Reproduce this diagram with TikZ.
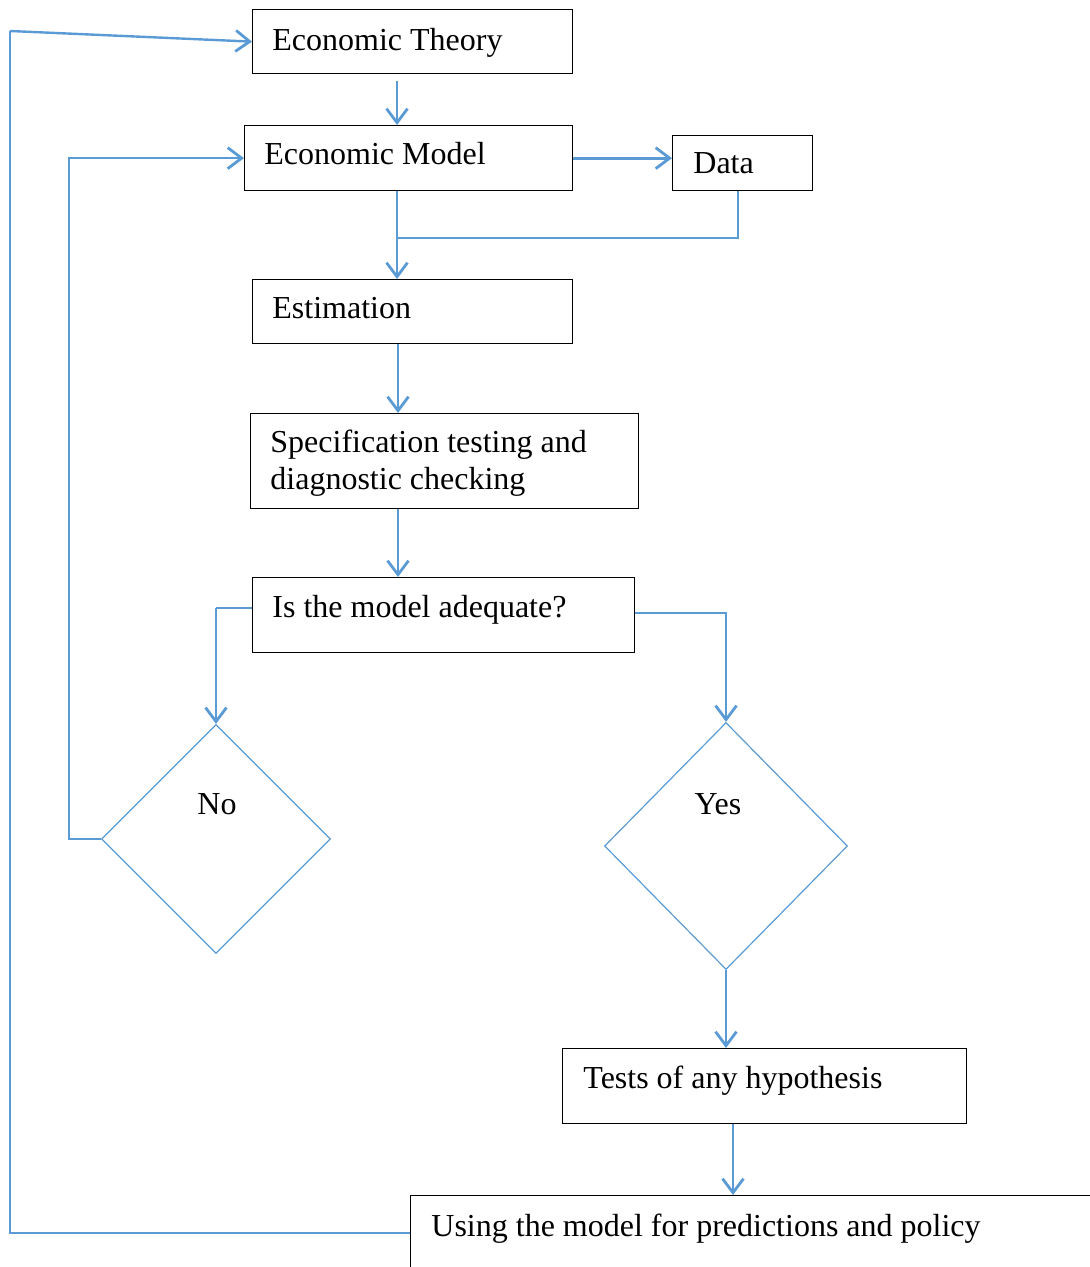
\documentclass[tikz,border=0pt]{standalone}
\usepackage{fontspec}
\setmainfont{Liberation Serif}
\usetikzlibrary{arrows.meta,shapes.geometric}
\definecolor{flowblue}{RGB}{91,155,213}
\begin{document}
\begin{tikzpicture}[x=0.5pt,y=-0.5pt,
  box/.style={draw=black,line width=0.65pt,rectangle,inner sep=0pt,anchor=north west},
  decision/.style={draw=flowblue,line width=0.6pt,diamond,inner sep=0pt},
  lbl/.style={font=\fontsize{16pt}{18.5pt}\selectfont,inner sep=0pt,anchor=base west},
  tip/.style={-{Straight Barb[length=7pt,width=10.5pt,line width=1.4pt]}},
  arr/.style={draw=flowblue,line width=1.4pt,tip},
  feed/.style={draw=flowblue,line width=1pt},
  thinline/.style={draw=flowblue,line width=0.7pt}]
\useasboundingbox (0,0) rectangle (1090,1267);

% boxes
\node[box,minimum width=160pt,minimum height=32pt] (theory) at (252,9) {};
\node[box,minimum width=164pt,minimum height=32.5pt] (model) at (244,125) {};
\node[box,minimum width=70pt,minimum height=27.5pt] (data) at (672,135) {};
\node[box,minimum width=160pt,minimum height=32pt] (est) at (252,279) {};
\node[box,minimum width=194pt,minimum height=47.5pt] (spec) at (250,413) {};
\node[box,minimum width=191pt,minimum height=37.5pt] (adeq) at (252,577) {};
\node[box,minimum width=202pt,minimum height=37.5pt] (tests) at (562,1048) {};
\node[box,minimum width=345pt,minimum height=37pt] (using) at (410,1195) {};

% decisions
\node[decision,minimum width=114.5pt,minimum height=114.5pt] (no) at (216,839) {};
\node[decision,minimum width=121.5pt,minimum height=123.5pt] (yes) at (726,846) {};

% texts
\node[lbl] (theoryT) at (272,51) {Economic Theory};
\node[lbl] (modelT) at (264,165) {Economic Model};
\node[lbl] (dataT) at (693,174) {Data};
\node[lbl] (estT) at (272,319) {Estimation};
\node[lbl] (specT1) at (270,452) {Specification testing and};
\node[lbl] (specT2) at (270,489) {diagnostic checking};
\node[lbl] (adeqT) at (272,617) {Is the model adequate?};
\node[lbl,anchor=base] (noT) at (217,814) {No};
\node[lbl,anchor=base] (yesT) at (718,814) {Yes};
\node[lbl] (testsT) at (583,1088) {Tests of any hypothesis};
\node[lbl] (usingT) at (431,1236) {Using the model for predictions and policy};

% helper coordinates for connector routes
\coordinate (spine) at (397,0);
\coordinate (spineB) at (398,0);
\coordinate (outer) at (10,31);
\coordinate (dret) at (738,238);
\coordinate (adqL) at (216,608);
\coordinate (adqR) at (725,613);
\coordinate (tu) at (733,0);

% main chain
\draw[arr,shorten <=3.5pt] (theory.south -| spine) -- (model.north -| spine);
\draw[arr] (model.east) -- (model.east -| data.west);
\draw[arr] (model.south -| spine) -- (est.north -| spine);
\draw[thinline] (data.south -| dret) |- (dret -| spine);
\draw[arr] (est.south -| spineB) -- (spec.north -| spineB);
\draw[arr] (spec.south -| spineB) -- (adeq.north -| spineB);

% branches of the decision
\draw[thinline] (adeq.west |- adqL) -- (adqL);
\draw[arr] (adqL) -- (no.north);
\draw[arr] (adeq.east |- adqR) -| (yes.north);
\draw[arr] (yes.south) -- (yes.south |- tests.north);
\draw[arr] (tests.south -| tu) -- (using.north -| tu);

% feedback loops
\draw[feed,tip] (no.west) -- ++(-32,0) |- (model.west);
\draw[feed] (using.west) -| (outer);
\draw[arr,line width=1.2pt] (outer) -- (theory.west);
\end{tikzpicture}
\end{document}
